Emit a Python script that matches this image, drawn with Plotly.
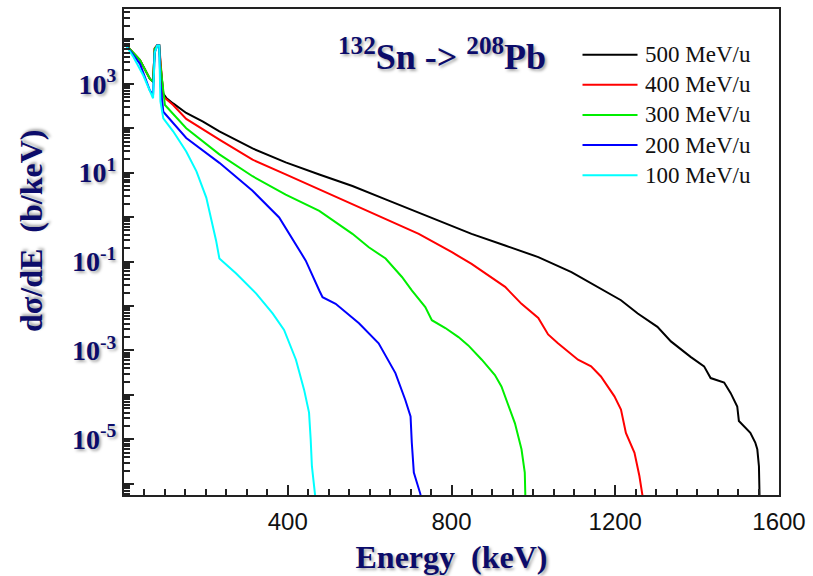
import plotly.graph_objects as go

# ---------------- data ----------------
energy_500 = [2, 39, 63, 71, 75, 81, 86, 89, 96, 104, 120, 152, 193, 233, 314, 395, 477, 558, 639, 720,
              801, 849, 931, 1012, 1093, 1174, 1214, 1255, 1303, 1336, 1384, 1417, 1433, 1466, 1482, 1498,
              1502, 1530, 1542, 1547, 1551, 1553]
dsde_500 = [7.9e3, 3.4e3, 1.3e3, 1.1e3, 6.2e3, 7.2e3, 7.2e3, 2.8e3, 600, 470, 360, 220, 140, 85, 35, 17,
            9.1, 5.0, 2.5, 1.26, 0.63, 0.42, 0.23, 0.126, 0.058, 0.022, 0.0135, 6.8e-3, 3.4e-3, 1.6e-3,
            7.2e-4, 4.4e-4, 2.4e-4, 1.9e-4, 1.1e-4, 5.5e-5, 2.6e-5, 1.4e-5, 8.5e-6, 6.0e-6, 2.5e-6, 3e-7]

energy_400 = [2, 39, 63, 71, 75, 81, 86, 89, 96, 120, 152, 233, 314, 395, 477, 558, 639, 720, 801, 849,
              931, 971, 1012, 1036, 1060, 1109, 1141, 1165, 1198, 1214, 1226, 1247, 1259, 1271]
dsde_400 = [7.9e3, 3.4e3, 1.3e3, 1.1e3, 6.2e3, 7.4e3, 7.4e3, 2.8e3, 513, 331, 162, 55, 19.5, 9.1, 4.2,
            1.95, 0.89, 0.42, 0.162, 0.089, 0.027, 0.0112, 5.4e-3, 2.3e-3, 1.45e-3, 6.2e-4, 4.4e-4,
            2.6e-4, 9.3e-5, 4.7e-5, 1.4e-5, 5.0e-6, 1.5e-6, 3e-7]

energy_300 = [2, 39, 63, 71, 75, 81, 86, 89, 100, 152, 233, 314, 395, 477, 558, 598, 639, 679, 703, 736,
              752, 785, 817, 841, 874, 906, 922, 939, 955, 971, 979, 981]
dsde_300 = [7.9e3, 3.4e3, 1.3e3, 1.1e3, 6.0e3, 7.2e3, 7.2e3, 2.6e3, 331, 100, 25.7, 8.3, 3.2, 1.38, 0.42,
            0.21, 0.117, 0.045, 0.0224, 9.5e-3, 4.8e-3, 3.2e-3, 2.0e-3, 1.3e-3, 6.2e-4, 2.8e-4,
            1.55e-4, 5.5e-5, 2.3e-5, 6.0e-6, 1.8e-6, 3e-7]

energy_200 = [2, 39, 63, 71, 75, 81, 86, 89, 96, 152, 233, 314, 379, 420, 444, 477, 485, 517, 574, 622,
              663, 687, 700, 703, 708, 724, 727]
dsde_200 = [7.9e3, 2.8e3, 710, 560, 5.0e3, 7.2e3, 7.2e3, 1.0e3, 234, 60, 16.6, 3.9, 0.98, 0.25, 0.105,
            0.0224, 0.0158, 0.0112, 4.1e-3, 1.45e-3, 3.1e-4, 7.8e-5, 3.3e-5, 8.5e-6, 1.8e-6, 5.9e-7, 3e-7]

energy_100 = [2, 23, 47, 71, 75, 81, 86, 89, 96, 120, 152, 177, 201, 217, 225, 233, 258, 274, 323, 363,
              391, 420, 440, 452, 456, 459, 470]
dsde_100 = [7.9e3, 4.0e3, 1.55e3, 470, 5.0e3, 7.2e3, 7.2e3, 400, 166, 85, 30, 10.7, 2.75, 0.69, 0.295,
            0.117, 0.074, 0.054, 0.019, 6.8e-3, 2.9e-3, 6.2e-4, 1.3e-4, 4.0e-5, 1.0e-5, 2.5e-6, 3e-7]

series_labels = ["500 MeV/u", "400 MeV/u", "300 MeV/u", "200 MeV/u", "100 MeV/u"]
series_colors = ["#000000", "#ff0000", "#00ee00", "#0000ff", "#00ffff"]
series_x = [energy_500, energy_400, energy_300, energy_200, energy_100]
series_y = [dsde_500, dsde_400, dsde_300, dsde_200, dsde_100]

x_tick_vals = [400, 800, 1200, 1600]
y_decades = list(range(-6, 5))
y_tick_vals = [10.0 ** k for k in y_decades]
y_tick_text = [("10<sup>%d</sup>" % k) if k % 2 != 0 else "" for k in y_decades]

# ---------------- styling ----------------
NAVY = "#0c0c6a"
SERIF = "Liberation Serif, Times New Roman, serif"
SHADOW = "2px 2px 3px rgba(0,0,0,0.35)"

fig = go.Figure()
for xs, ys, col, lab in zip(series_x, series_y, series_colors, series_labels):
    fig.add_trace(go.Scatter(x=xs, y=ys, mode="lines", name=lab,
                             line=dict(color=col, width=2), showlegend=False))

# custom legend (line samples + labels) in the upper right
leg_y = [0.906, 0.844, 0.782, 0.720, 0.658]
for lab, col, yy in zip(series_labels, series_colors, leg_y):
    fig.add_shape(type="line", xref="paper", yref="paper", x0=0.700, x1=0.784, y0=yy, y1=yy,
                  line=dict(color=col, width=2))
    fig.add_annotation(xref="paper", yref="paper", x=0.792, y=yy, xanchor="left", yanchor="middle",
                       text=lab, showarrow=False,
                       font=dict(family=SERIF, size=23, color="#111111"))

fig.add_annotation(xref="paper", yref="paper", x=0.485, y=0.906, xanchor="center", yanchor="middle",
                   text="<sup>132</sup>Sn -> <sup>208</sup>Pb", showarrow=False,
                   font=dict(family=SERIF, size=36, color=NAVY, weight="bold", shadow=SHADOW))

# y-axis title (placed as in the reference, slightly above the axis centre)
fig.add_annotation(xref="paper", yref="paper", x=-0.143, y=0.544, xanchor="center", yanchor="middle",
                   text="d\u03c3/dE\u00a0 (b/keV)", textangle=-90, showarrow=False,
                   font=dict(family=SERIF, size=32, color=NAVY, weight="bold", shadow=SHADOW))

fig.update_layout(
    width=813, height=576,
    margin=dict(l=124, r=31, t=7, b=80),
    paper_bgcolor="white", plot_bgcolor="white",
    showlegend=False,
    xaxis=dict(
        range=[0, 1600], showgrid=False, zeroline=False,
        showline=True, linecolor="#222222", linewidth=2, mirror=True,
        ticks="inside", ticklen=10, tickwidth=2, tickcolor="#222222",
        tickmode="array", tickvals=x_tick_vals,
        tickfont=dict(family="Liberation Sans, Arial, sans-serif", size=24, color="#111111"),
        ticklabelstandoff=4,
        minor=dict(ticks="inside", ticklen=6, tickwidth=1.5, tickcolor="#222222", dtick=50, tick0=0,
                   showgrid=False),
        title=dict(text="Energy\u00a0 (keV)", standoff=12,
                   font=dict(family=SERIF, size=32, color=NAVY, weight="bold", shadow=SHADOW)),
    ),
    yaxis=dict(
        type="log", range=[-6.25, 4.68], showgrid=False, zeroline=False,
        showline=True, linecolor="#222222", linewidth=2, mirror=True,
        ticks="inside", ticklen=10, tickwidth=2, tickcolor="#222222",
        tickmode="array", tickvals=y_tick_vals, ticktext=y_tick_text,
        tickfont=dict(family=SERIF, size=28, color=NAVY, weight="bold", shadow=SHADOW),
        minor=dict(ticks="inside", ticklen=6, tickwidth=1.5, tickcolor="#222222", dtick="D1",
                   showgrid=False),
    ),
)

fig.write_html("out.html")
